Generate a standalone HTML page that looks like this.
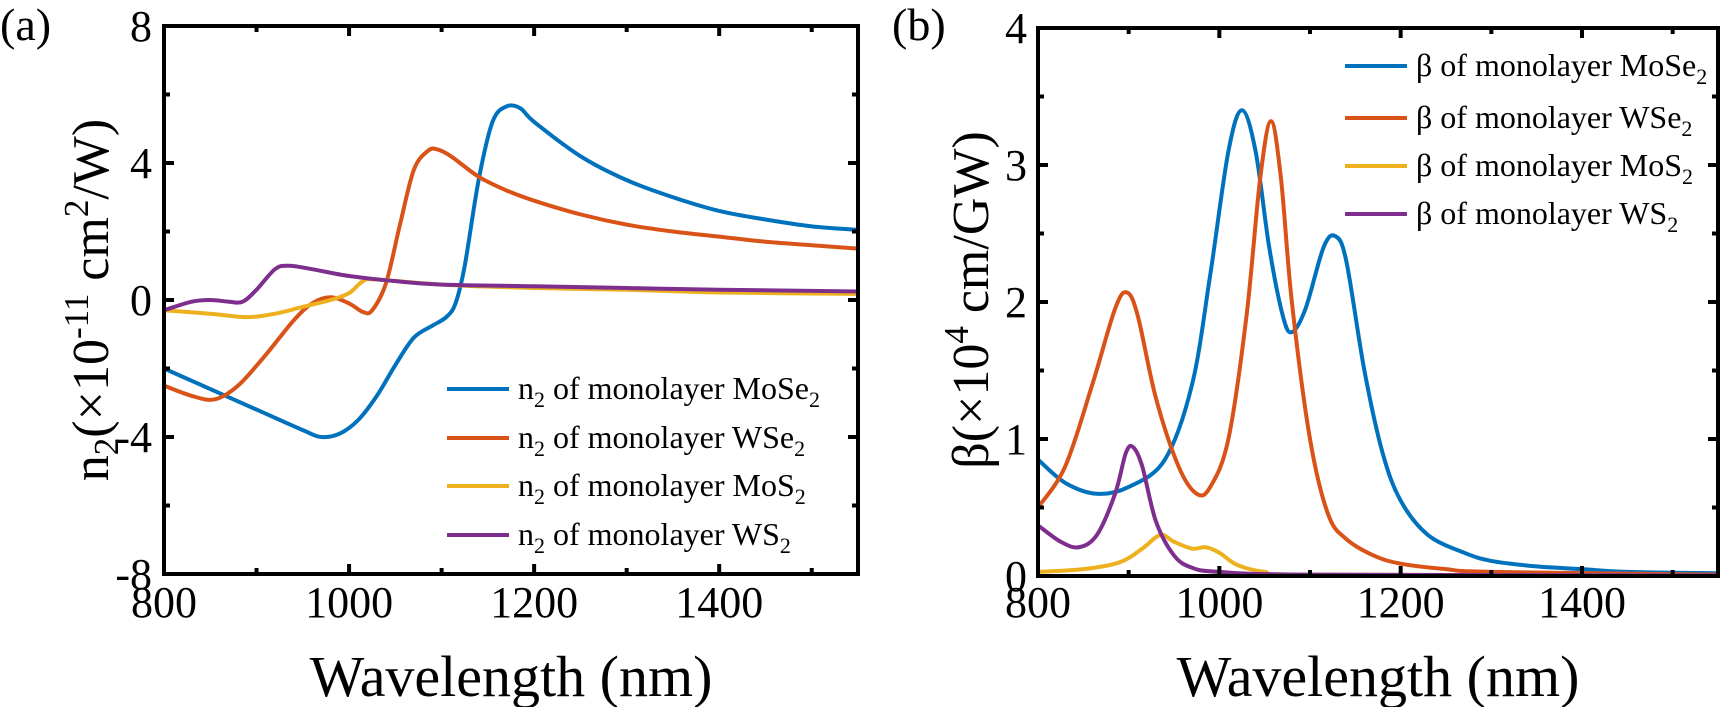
<!DOCTYPE html>
<html><head><meta charset="utf-8"><style>
body{margin:0;background:#fff}
svg{display:block;font-family:"Liberation Serif","Times New Roman",serif}
svg text{font-family:"Liberation Serif","Times New Roman",serif;fill:#000}
</style></head><body>
<svg id="s" width="1725" height="707" viewBox="0 0 1725 707" xmlns="http://www.w3.org/2000/svg" font-family="Liberation Serif, serif">
<g id="g"></g>
<text x="0" y="40" font-size="46" font-family="Liberation Serif, serif">(a)</text>
<text x="892" y="40" font-size="46" font-family="Liberation Serif, serif">(b)</text>
<text x="511" y="696" font-size="58" text-anchor="middle" font-family="Liberation Serif, serif">Wavelength (nm)</text>
<text x="1378" y="696" font-size="58" text-anchor="middle" font-family="Liberation Serif, serif">Wavelength (nm)</text>
<text transform="translate(108,300) rotate(-90)" font-size="52" text-anchor="middle" font-family="Liberation Serif, serif">n<tspan font-size="35" dy="10">2</tspan><tspan dy="-10">(×10</tspan><tspan font-size="35" dy="-20">-11</tspan><tspan dy="20"> cm</tspan><tspan font-size="35" dy="-20">2</tspan><tspan dy="20">/W)</tspan></text>
<text transform="translate(988,300) rotate(-90)" font-size="52" text-anchor="middle" font-family="Liberation Serif, serif">β(×10<tspan font-size="35" dy="-20">4</tspan><tspan dy="20"> cm/GW)</tspan></text>
</svg>
<script>
var g=document.getElementById('g'),NS='http://www.w3.org/2000/svg';
function el(t,a,txt){var e=document.createElementNS(NS,t);for(var k in a)e.setAttribute(k,a[k]);if(t=='text')e.setAttribute('font-family','Liberation Serif, serif');if(txt!=null)e.textContent=txt;g.appendChild(e);return e;}
var C=['#0072BD','#D95319','#EDB120','#7E2F8E'];
function panel(L,R,T,B,ymin,ymax,yt,ymi,series,lx,ly,lab,tlx){
 var X=function(w){return L+(w-800)/750*(R-L)},Y=function(v){return B-(v-ymin)/(ymax-ymin)*(B-T)};
 series.forEach(function(p,i){
  var pts=p.map(function(q){return [X(q[0]),Y(q[1])]});
  var d='M'+pts[0][0]+','+pts[0][1];
  for(var k=0;k<pts.length-1;k++){var p0=pts[Math.max(0,k-1)],p1=pts[k],p2=pts[k+1],p3=pts[Math.min(pts.length-1,k+2)];
   d+=' C'+(p1[0]+(p2[0]-p0[0])/6)+','+(p1[1]+(p2[1]-p0[1])/6)+' '+(p2[0]-(p3[0]-p1[0])/6)+','+(p2[1]-(p3[1]-p1[1])/6)+' '+p2[0]+','+p2[1];}
  el('path',{d:d,fill:'none',stroke:C[i],'stroke-width':4,'stroke-linejoin':'round'});
 });
 el('rect',{x:L,y:T,width:R-L,height:B-T,fill:'none',stroke:'#000','stroke-width':4});
 for(var w=800;w<=1550;w+=100){var x=X(w),m=(w%200==0)?10:6;
  el('line',{x1:x,y1:B,x2:x,y2:B-m,stroke:'#000','stroke-width':4});
  el('line',{x1:x,y1:T,x2:x,y2:T+m,stroke:'#000','stroke-width':4});
  if(w%200==0)el('text',{x:x,y:617,'font-size':44,'text-anchor':'middle'},String(w));}
 for(var v=ymin;v<=ymax+1e-9;v+=ymi){var y=Y(v),maj=Math.abs(Math.round(v/yt)*yt-v)<1e-6,m=maj?10:6;
  el('line',{x1:L,y1:y,x2:L+m,y2:y,stroke:'#000','stroke-width':4});
  el('line',{x1:R,y1:y,x2:R-m,y2:y,stroke:'#000','stroke-width':4});
  if(maj)el('text',{x:tlx,y:y+15,'font-size':44,'text-anchor':'end'},String(Math.round(v)));}
 ly.forEach(function(yy,i){el('line',{x1:lx,y1:yy,x2:lx+62,y2:yy,stroke:C[i],'stroke-width':4});
  var t=el('text',{x:lx+71,y:yy+10,'font-size':32});t.innerHTML=lab[i];});
}
var a=[
[[800,-2],[850,-2.6],[900,-3.2],[950,-3.8],[970,-4],[990,-3.9],[1010,-3.5],[1030,-2.8],[1050,-1.9],[1070,-1.1],[1090,-0.75],[1105,-0.5],[1115,-0.1],[1125,1],[1140,3.5],[1155,5.2],[1170,5.65],[1185,5.6],[1200,5.2],[1250,4.2],[1300,3.5],[1350,3],[1400,2.6],[1450,2.35],[1500,2.15],[1550,2.05]],
[[800,-2.5],[830,-2.8],[855,-2.9],[880,-2.5],[910,-1.6],[940,-0.6],[960,-0.1],[980,0.08],[1000,-0.1],[1015,-0.35],[1025,-0.3],[1040,0.5],[1055,2.2],[1070,3.8],[1085,4.35],[1095,4.4],[1110,4.2],[1140,3.6],[1170,3.2],[1200,2.9],[1250,2.5],[1300,2.2],[1350,2],[1400,1.85],[1450,1.7],[1500,1.6],[1550,1.5]],
[[800,-0.3],[850,-0.4],[890,-0.5],[920,-0.4],[950,-0.2],[980,0],[1000,0.2],[1015,0.55],[1030,0.6],[1100,0.45],[1200,0.35],[1300,0.3],[1400,0.22],[1550,0.18]],
[[800,-0.3],[830,-0.05],[850,0],[870,-0.05],[885,-0.05],[900,0.3],[920,0.9],[935,1],[960,0.9],[1000,0.7],[1050,0.55],[1100,0.45],[1200,0.4],[1300,0.35],[1400,0.3],[1550,0.25]]];
var b=[
[[800,0.85],[830,0.68],[865,0.6],[900,0.65],[940,0.85],[970,1.4],[990,2.2],[1010,3.1],[1025,3.4],[1040,3.1],[1055,2.4],[1070,1.9],[1080,1.78],[1095,1.95],[1115,2.4],[1128,2.48],[1140,2.3],[1160,1.5],[1180,0.9],[1200,0.55],[1230,0.3],[1270,0.17],[1300,0.11],[1350,0.07],[1400,0.05],[1450,0.03],[1550,0.02]],
[[800,0.5],[830,0.8],[860,1.4],[885,1.95],[898,2.07],[910,1.9],[930,1.3],[955,0.8],[975,0.6],[990,0.65],[1010,1],[1030,1.9],[1045,2.9],[1057,3.32],[1068,2.9],[1080,2],[1100,1],[1120,0.45],[1140,0.27],[1170,0.15],[1200,0.09],[1250,0.05],[1300,0.03],[1550,0.01]],
[[800,0.03],[850,0.05],[890,0.1],[915,0.2],[935,0.3],[950,0.25],[970,0.2],[985,0.21],[1000,0.17],[1020,0.08],[1050,0.03],[1100,0.01],[1550,0.005]],
[[800,0.37],[825,0.25],[845,0.21],[865,0.3],[885,0.6],[897,0.9],[905,0.94],[915,0.8],[930,0.4],[950,0.15],[970,0.06],[1000,0.03],[1100,0.01],[1550,0.005]]];
var sub=function(s){return '<tspan font-size="22" dy="8">'+s+'</tspan>'};
panel(164,858,26,574,-8,8,4,2,a,447,[389,438,486,535],
 ['n'+sub(2)+'<tspan dy="-8"> of monolayer MoSe</tspan>'+sub(2),'n'+sub(2)+'<tspan dy="-8"> of monolayer WSe</tspan>'+sub(2),'n'+sub(2)+'<tspan dy="-8"> of monolayer MoS</tspan>'+sub(2),'n'+sub(2)+'<tspan dy="-8"> of monolayer WS</tspan>'+sub(2)],152);
panel(1038,1718,28,576,0,4,1,0.5,b,1345,[66,118,166,214],
 ['β of monolayer MoSe'+sub(2),'β of monolayer WSe'+sub(2),'β of monolayer MoS'+sub(2),'β of monolayer WS'+sub(2)],1027);
</script>
</body></html>
